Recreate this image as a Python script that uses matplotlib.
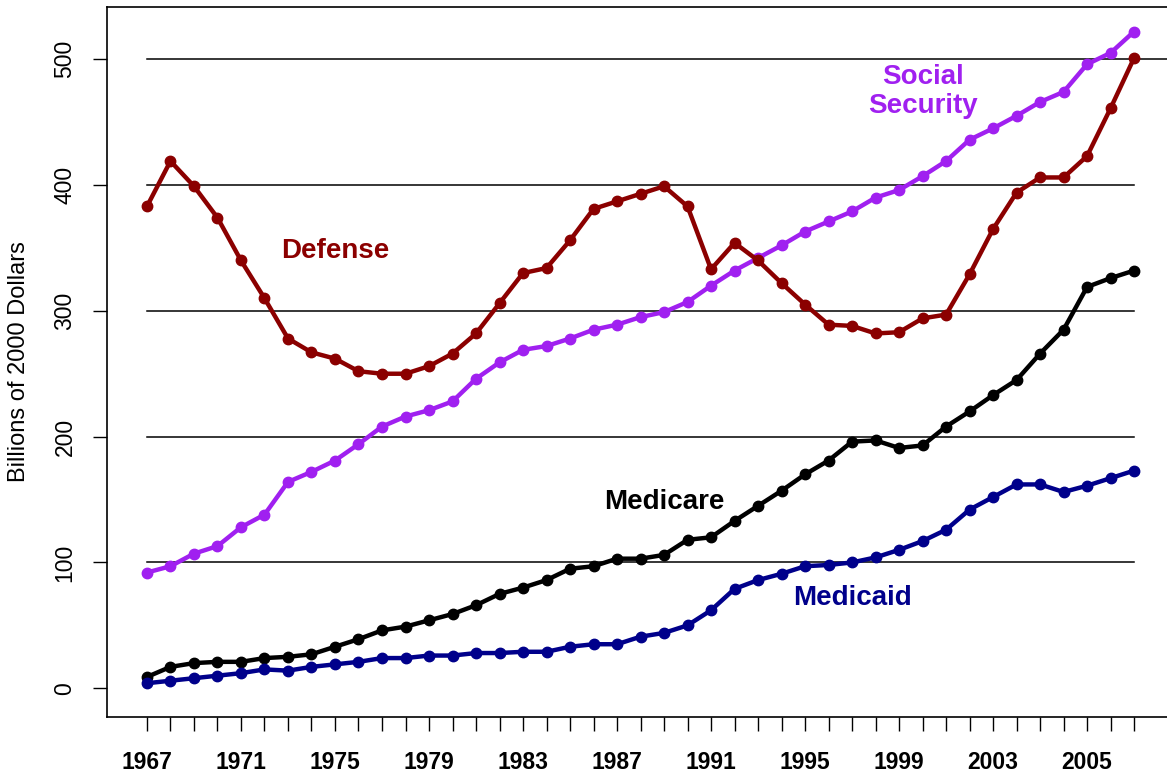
import matplotlib.pyplot as plt

years = list(range(1967, 2010))

defense = [383, 419, 399, 374, 340, 310, 278, 267, 262, 252, 250, 250, 256, 266, 282, 306,
           330, 334, 356, 381, 387, 393, 399, 383, 333, 354, 340, 322, 305, 289, 288, 282,
           283, 294, 297, 329, 365, 394, 406, 406, 423, 461, 501]
social_security = [92, 97, 107, 113, 128, 138, 164, 172, 181, 194, 208, 216, 221, 228, 246, 259,
                   269, 272, 278, 285, 289, 295, 299, 307, 320, 332, 342, 352, 363, 371, 379, 390,
                   396, 407, 419, 436, 445, 455, 466, 474, 496, 505, 522]
medicare = [9, 17, 20, 21, 21, 24, 25, 27, 33, 39, 46, 49, 54, 59, 66, 75,
            80, 86, 95, 97, 103, 103, 106, 118, 120, 133, 145, 157, 170, 181, 196, 197,
            191, 193, 208, 220, 233, 245, 266, 285, 319, 326, 332]
medicaid = [4, 6, 8, 10, 12, 15, 14, 17, 19, 21, 24, 24, 26, 26, 28, 28,
            29, 29, 33, 35, 35, 41, 44, 50, 62, 79, 86, 91, 97, 98, 100, 104,
            110, 117, 126, 142, 152, 162, 162, 156, 161, 167, 173]

tick_years = [1967, 1971, 1975, 1979, 1983, 1987, 1991, 1995, 1999, 2003, 2007]
tick_labels = ['1967', '1971', '1975', '1979', '1983', '1987', '1991', '1995', '1999', '2003', '2005']
grid_values = [0, 100, 200, 300, 400, 500]

plt.rcParams['font.family'] = ['Liberation Sans', 'DejaVu Sans']

fig = plt.figure(figsize=(11.67, 7.82), dpi=100)
ax = fig.add_axes([0.0917, 0.0835, 0.9083, 0.9079])

ax.set_xlim(1965.3, 2010.4)
ax.set_ylim(-22.6, 541.7)

# horizontal reference lines, only across the data range
for v in grid_values[1:]:
    right = 2010.4 if v == 500 else years[-1]
    ax.plot([years[0], right], [v, v], color='black', linewidth=1.1, zorder=1)

series = [
    (social_security, '#a020f0'),
    (medicare, 'black'),
    (medicaid, '#00008b'),
    (defense, '#8b0000'),
]
for vals, col in series:
    ax.plot(years, vals, color=col, linewidth=3.2, marker='o', markersize=7.5, zorder=3)

ax.text(1975.0, 347.5, 'Defense', color='#8b0000', fontsize=20, fontweight='bold',
        ha='center', va='center')
ax.text(2000.0, 474.5, 'Social\nSecurity', color='#a020f0', fontsize=20, fontweight='bold',
        ha='center', va='center', linespacing=1.15)
ax.text(1989.0, 148, 'Medicare', color='black', fontsize=20, fontweight='bold',
        ha='center', va='center')
ax.text(1997.0, 72, 'Medicaid', color='#00008b', fontsize=20, fontweight='bold',
        ha='center', va='center')

ax.set_xticks(years, minor=True)
ax.set_xticks(tick_years)
ax.set_xticklabels(tick_labels, fontsize=16.5, fontweight='bold')
ax.set_yticks(grid_values)
ax.set_yticklabels([str(v) for v in grid_values], fontsize=16.5, rotation=90, va='center')

ax.tick_params(axis='x', which='both', direction='out', length=10, width=1, pad=15)
ax.tick_params(axis='y', direction='out', length=10, width=1, pad=12)

ax.spines['right'].set_visible(False)
for s in ['left', 'bottom', 'top']:
    ax.spines[s].set_linewidth(1.2)

ax.set_ylabel('Billions of 2000 Dollars', fontsize=17, va='center')
ax.yaxis.set_label_coords(-0.083, 0.5)

fig.savefig('out.png', dpi=100)
